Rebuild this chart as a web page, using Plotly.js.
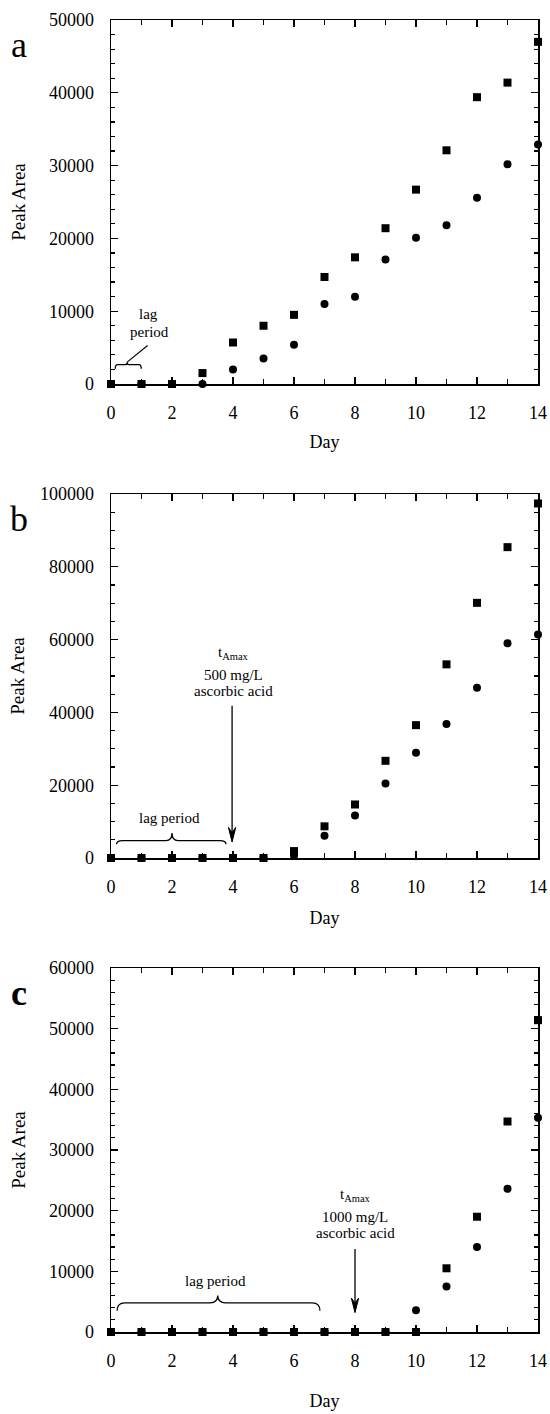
<!DOCTYPE html>
<html><head><meta charset="utf-8">
<script src="https://cdn.plot.ly/plotly-3.0.1.min.js"></script>
<style>body{margin:0;background:#fff}#chart{width:550px;height:1414px}</style>
</head><body><div id="chart"></div>
<script>
// ---- data ----
const days = [0,1,2,3,4,5,6,7,8,9,10,11,12,13,14];
const aSquares = [0,0,0,1500,5700,8000,9500,14700,17400,21400,26700,32100,39400,41400,47000];
const aCircles = [0,0,0,0,2000,3500,5400,11000,12000,17100,20100,21800,25600,30200,32900];
const bSquares = [0,0,0,0,0,0,1900,8700,14700,26700,36500,53200,70100,85400,97400];
const bCircles = [0,0,0,0,0,0,700,6100,11700,20500,28900,36800,46800,59000,61400];
const cSquares = [0,0,0,0,0,0,0,0,0,0,0,10500,19000,34700,51400];
const cCircles = [0,0,0,0,0,0,0,0,0,0,3600,7500,14000,23600,35300];
const panelLetters = ['a','b','<b>c</b>'];
const xTitle = 'Day';
const yTitle = 'Peak Area';

// ---- layout geometry (pixels) ----
const W = 550, H = 1414, L = 111, R = 12, T = 20, B = 82;
const plotH = H - T - B;
const panels = [[20,384],[494,858],[968,1332]];
const dom = p => [1 - (p[1]-T)/plotH, 1 - (p[0]-T)/plotH];

const FONT = 'Liberation Serif';
const black = '#000';

function traces(xa, ya, sq, ci) {
  return [
    {x: days, y: sq, xaxis: xa, yaxis: ya, mode: 'markers', type: 'scatter', cliponaxis: false,
     marker: {symbol: 'square', size: 8, color: black}, showlegend: false, hoverinfo: 'x+y'},
    {x: days, y: ci, xaxis: xa, yaxis: ya, mode: 'markers', type: 'scatter', cliponaxis: false,
     marker: {symbol: 'circle', size: 8, color: black}, showlegend: false, hoverinfo: 'x+y'}
  ];
}
const data = [].concat(
  traces('x','y', aSquares, aCircles),
  traces('x2','y2', bSquares, bCircles),
  traces('x3','y3', cSquares, cCircles)
);

function xaxis(anchor, standoff) {
  return {
    anchor: anchor, domain: [0,1], range: [0,14], dtick: 2, tick0: 0,
    ticks: 'inside', ticklen: 7, tickwidth: 1.3, tickcolor: black,
    minor: {dtick: 1, ticks: 'inside', ticklen: 5, tickwidth: 1.2, tickcolor: black},
    showline: true, linecolor: black, linewidth: 1.5, mirror: 'allticks',
    showgrid: false, zeroline: false, fixedrange: true,
    ticklabelstandoff: 12,
    tickfont: {family: FONT, size: 18, color: black},
    title: {text: xTitle, standoff: standoff, font: {family: FONT, size: 18, color: black}}
  };
}
function yaxis(anchor, p, max, dt, mdt, standoff) {
  return {
    anchor: anchor, domain: dom(p), range: [0, max], dtick: dt, tick0: 0, tickformat: 'd',
    ticks: 'inside', ticklen: 7, tickwidth: 1.3, tickcolor: black,
    minor: {dtick: mdt, ticks: 'inside', ticklen: 4, tickwidth: 1.2, tickcolor: black},
    showline: true, linecolor: black, linewidth: 1.5, mirror: 'allticks',
    showgrid: false, zeroline: false, fixedrange: true,
    ticklabelstandoff: 12,
    tickfont: {family: FONT, size: 18, color: black},
    title: {text: yTitle, standoff: standoff, font: {family: FONT, size: 19, color: black}}
  };
}

function brace(xr, yr, x0, x1, y, yEnd, xm, yPeak, dx) {
  return {type: 'path', xref: xr, yref: yr, line: {color: black, width: 1.3},
    path: `M ${x0},${yEnd} Q ${x0},${y} ${x0+dx},${y} L ${xm-dx},${y} Q ${xm},${y} ${xm},${yPeak} ` +
          `Q ${xm},${y} ${xm+dx},${y} L ${x1-dx},${y} Q ${x1},${y} ${x1},${yEnd}`};
}
// vertical arrow drawn as a line plus a filled head
function arrowShapes(xr, yr, x, yTip, yTail, headH, headW) {
  return [
    {type: 'line', xref: xr, yref: yr, x0: x, y0: yTail, x1: x, y1: yTip + headH*0.6, line: {color: black, width: 1.3}},
    {type: 'path', xref: xr, yref: yr, fillcolor: black, line: {color: black, width: 1},
     path: `M ${x},${yTip} L ${x-headW},${yTip+headH} L ${x},${yTip+headH*0.65} L ${x+headW},${yTip+headH} Z`}
  ];
}

const shapes = [
  brace('x','y', 0.14, 0.99, 2650, 2100, 0.53, 3000, 0.07),
  {type: 'line', xref: 'x', yref: 'y', x0: 0.53, y0: 3000, x1: 1.2, y1: 5300, line: {color: black, width: 1.2}},
  brace('x2','y2', 0.18, 3.77, 4800, 3800, 2.0, 6900, 0.2),
  brace('x3','y3', 0.2, 6.85, 4800, 3500, 3.5, 6000, 0.25)
].concat(
  arrowShapes('x2','y2', 3.97, 4400, 41800, 4000, 0.12),
  arrowShapes('x3','y3', 8.0, 3200, 13700, 2400, 0.12)
);

function txt(xr, yr, x, y, t, size) {
  return {xref: xr, yref: yr, x: x, y: y, text: t, showarrow: false, xanchor: 'center', yanchor: 'middle',
          font: {family: FONT, size: size || 15, color: black}};
}
function letter(i) {
  return {xref: 'paper', yref: 'paper', x: (19 - L)/(W - L - R), y: dom(panels[i])[1] - 25/plotH,
          text: panelLetters[i], showarrow: false, xanchor: 'center', yanchor: 'middle',
          font: {family: FONT, size: 36, color: black}};
}

const annotations = [
  letter(0), letter(1), letter(2),
  txt('x','y', 1.23, 9600, 'lag'),
  txt('x','y', 1.26, 7200, 'period'),
  txt('x2','y2', 1.93, 11000, 'lag period'),
  txt('x2','y2', 4.0, 56400, 't<sub>Amax</sub>'),
  txt('x2','y2', 4.0, 50200, '500 mg/L'),
  txt('x2','y2', 4.0, 45800, 'ascorbic acid'),
  txt('x3','y3', 3.44, 8400, 'lag period'),
  txt('x3','y3', 8.0, 22600, 't<sub>Amax</sub>'),
  txt('x3','y3', 8.0, 19000, '1000 mg/L'),
  txt('x3','y3', 8.0, 16300, 'ascorbic acid')
];

const layout = {
  width: W, height: H, margin: {l: L, r: R, t: T, b: B},
  paper_bgcolor: '#fff', plot_bgcolor: '#fff', showlegend: false,
  font: {family: FONT, color: black},
  xaxis: xaxis('y', 13), xaxis2: xaxis('y2', 15), xaxis3: xaxis('y3', 24),
  yaxis: yaxis('x', panels[0], 50000, 10000, 2000, 18),
  yaxis2: yaxis('x2', panels[1], 100000, 20000, 5000, 10),
  yaxis3: yaxis('x3', panels[2], 60000, 10000, 2000, 18),
  shapes: shapes, annotations: annotations
};
Plotly.newPlot('chart', data, layout, {displayModeBar: false, staticPlot: true});
</script></body></html>
